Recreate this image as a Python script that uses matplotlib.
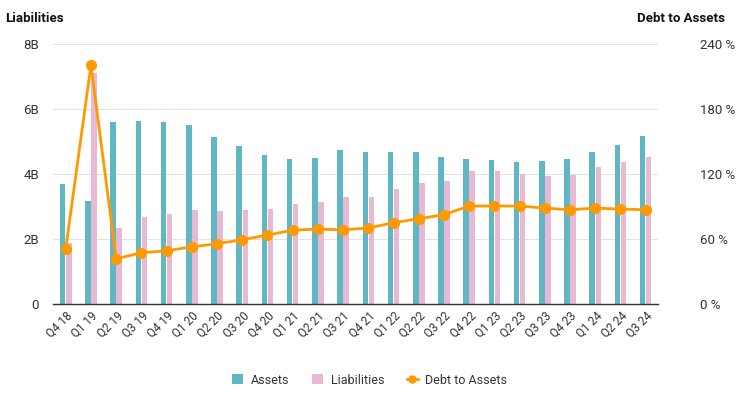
import matplotlib.pyplot as plt
import numpy as np
from matplotlib.lines import Line2D
from matplotlib.patches import Patch

plt.rcParams.update({
    'font.family': ['Roboto', 'DejaVu Sans'],
    'font.size': 9,
})

# datos
trimestres = ['Q4 18', 'Q1 19', 'Q2 19', 'Q3 19', 'Q4 19', 'Q1 20', 'Q2 20', 'Q3 20',
              'Q4 20', 'Q1 21', 'Q2 21', 'Q3 21', 'Q4 21', 'Q1 22', 'Q2 22', 'Q3 22',
              'Q4 22', 'Q1 23', 'Q2 23', 'Q3 23', 'Q4 23', 'Q1 24', 'Q2 24', 'Q3 24']
activos = [3.68, 3.16, 5.61, 5.64, 5.61, 5.50, 5.13, 4.87, 4.59, 4.47, 4.51, 4.75,
           4.69, 4.69, 4.69, 4.54, 4.47, 4.44, 4.38, 4.41, 4.47, 4.69, 4.90, 5.18]
pasivos = [1.87, 7.10, 2.35, 2.67, 2.76, 2.88, 2.85, 2.88, 2.94, 3.07, 3.14, 3.28,
           3.31, 3.53, 3.72, 3.78, 4.08, 4.08, 4.00, 3.93, 3.96, 4.21, 4.36, 4.54]
deuda_activos = [51.1, 220.6, 41.8, 47.4, 49.2, 52.9, 55.7, 59.4, 63.7, 68.3, 69.2, 68.6,
                 70.2, 75.1, 78.8, 82.5, 90.5, 90.5, 90.5, 88.6, 87.1, 88.6, 87.7, 87.1]
ticks_izq = [0, 2, 4, 6, 8]
etiquetas_izq = ['0', '2B', '4B', '6B', '8B']
ticks_der = [0, 60, 120, 180, 240]
etiquetas_der = ['0 %', '60 %', '120 %', '180 %', '240 %']

c_activos = '#5fb7c3'
c_pasivos = '#e8b9d5'
c_linea = '#ff9900'
c_texto = '#333333'

fig = plt.figure(figsize=(7.38, 3.97), dpi=100)
ax = fig.add_axes([0.072, 0.234, 0.820, 0.655])
x = np.arange(len(trimestres))
ancho = 0.22

ax.bar(x - 0.12, activos, width=ancho, color=c_activos, zorder=2)
ax.bar(x + 0.12, pasivos, width=ancho, color=c_pasivos, zorder=2)

ax.set_xlim(-0.5, len(trimestres) - 0.5)
ax.set_ylim(0, 8)
ax.set_yticks(ticks_izq)
ax.set_yticklabels(etiquetas_izq, color=c_texto, fontsize=9.5)
ax.grid(axis='y', color='#e3e3e3', linewidth=0.8, zorder=0)
ax.set_xticks(x)
ax.set_xticklabels(trimestres, rotation=45, ha='right', rotation_mode='anchor',
                   color=c_texto, fontsize=8.5)
ax.tick_params(axis='both', length=0)
ax.tick_params(axis='y', pad=10)
ax.tick_params(axis='x', pad=4)
for lado in ['top', 'right', 'left']:
    ax.spines[lado].set_visible(False)
ax.spines['bottom'].set_color('#333333')
ax.spines['bottom'].set_linewidth(1.0)

ax2 = ax.twinx()
ax2.plot(x, deuda_activos, color=c_linea, linewidth=2, marker='o', markersize=7, zorder=3)
ax2.set_ylim(0, 240)
ax2.set_yticks(ticks_der)
ax2.set_yticklabels(etiquetas_der, color=c_texto, fontsize=9.5)
ax2.tick_params(axis='y', length=0, pad=30)
for lado in ['top', 'right', 'left', 'bottom']:
    ax2.spines[lado].set_visible(False)

fig.text(5 / 738, 1 - 19 / 397, 'Liabilities', fontweight='bold', fontsize=9.5,
         color='#111111', va='center', ha='left')
fig.text(725 / 738, 1 - 19 / 397, 'Debt to Assets', fontweight='bold', fontsize=9.5,
         color='#111111', va='center', ha='right')

elementos = [
    Patch(facecolor=c_activos, label='Assets'),
    Patch(facecolor=c_pasivos, label='Liabilities'),
    Line2D([0], [0], color=c_linea, linewidth=2, marker='o', markersize=5,
           label='Debt to Assets'),
]
fig.legend(handles=elementos, loc='center', bbox_to_anchor=(0.501, 1 - 380 / 397),
           ncol=3, frameon=False, fontsize=9, handlelength=0.9, handleheight=0.9,
           columnspacing=1.8, handletextpad=0.6, labelcolor=c_texto)

plt.savefig('out.png', dpi=100)
